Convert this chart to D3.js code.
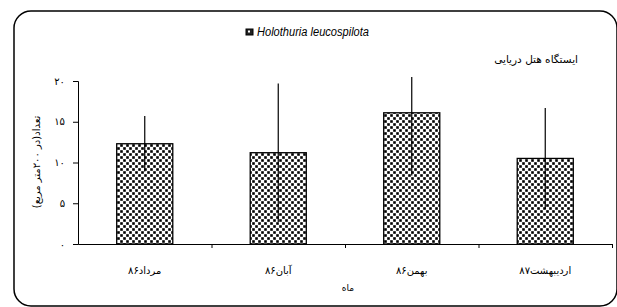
<!DOCTYPE html>
<html>
<head>
<meta charset="utf-8">
<script src="https://cdn.jsdelivr.net/npm/d3@7"></script>
<style>
  body { margin: 0; background: #fff; }
  svg { display: block; }
  .fa { font-family: "DejaVu Sans", sans-serif; }
</style>
</head>
<body>
<svg id="chart" width="617" height="307"></svg>
<script>
// data
const months = ['مرداد۸۶', 'آبان۸۶', 'بهمن۸۶', 'اردیبهشت۸۷'];
const counts = [12.3, 11.2, 16.1, 10.5];
const errors = [3.4, 8.5, 7.7, 6.2];
const yTicks = [0, 5, 10, 15, 20];
const yTickLabels = ['۰', '۵', '۱۰', '۱۵', '۲۰'];

const seriesName = 'Holothuria leucospilota';
const stationName = 'ایستگاه هتل دریایی';
const yTitle = 'تعداد(در ۲۰۰متر مربع)';
const xTitle = 'ماه';

const plot = {left: 78, right: 612, top: 81, bottom: 244};

const svg = d3.select('#chart');

// dotted fill
const defs = svg.append('defs');
const pat = defs.append('pattern')
  .attr('id', 'dots')
  .attr('patternUnits', 'userSpaceOnUse')
  .attr('width', 6).attr('height', 6);
pat.append('rect').attr('width', 6).attr('height', 6).attr('fill', '#fff');
pat.append('rect').attr('x', 0.2).attr('y', 0.2).attr('width', 2.6).attr('height', 2.6).attr('fill', '#000');
pat.append('rect').attr('x', 3.2).attr('y', 3.2).attr('width', 2.6).attr('height', 2.6).attr('fill', '#000');

defs.append('clipPath').attr('id', 'plotclip')
  .append('rect')
  .attr('x', plot.left).attr('y', 77)
  .attr('width', plot.right - plot.left).attr('height', plot.bottom - 77);

// rounded outer frame
svg.append('rect')
  .attr('x', 14).attr('y', 11)
  .attr('width', 603).attr('height', 295)
  .attr('rx', 17).attr('ry', 17)
  .attr('fill', 'none')
  .attr('stroke', '#000')
  .attr('stroke-width', 1.5);

const x = d3.scaleBand()
  .domain(months)
  .range([plot.left, plot.right])
  .paddingInner(0.58)
  .paddingOuter(0.29);

const xEdge = d3.scaleLinear()
  .domain([0, months.length])
  .range([plot.left, plot.right]);

const y = d3.scaleLinear()
  .domain([0, 20])
  .range([plot.bottom, plot.top]);

// bars
const data = months.map((m, i) => ({m, v: counts[i], e: errors[i]}));

svg.append('g')
  .selectAll('rect')
  .data(data)
  .join('rect')
  .attr('x', d => x(d.m))
  .attr('y', d => y(d.v))
  .attr('width', x.bandwidth())
  .attr('height', d => y(0) - y(d.v))
  .attr('fill', 'url(#dots)')
  .attr('stroke', '#000')
  .attr('stroke-width', 1.3);

// error bars (no caps)
svg.append('g')
  .attr('clip-path', 'url(#plotclip)')
  .selectAll('line')
  .data(data)
  .join('line')
  .attr('x1', d => x(d.m) + x.bandwidth() / 2)
  .attr('x2', d => x(d.m) + x.bandwidth() / 2)
  .attr('y1', d => y(d.v + d.e))
  .attr('y2', d => y(d.v - d.e))
  .attr('stroke', '#000')
  .attr('stroke-width', 1.2);

// y axis
const yAxis = svg.append('g')
  .attr('transform', `translate(${plot.left},0)`)
  .call(d3.axisLeft(y)
    .tickValues(yTicks)
    .tickSize(5)
    .tickPadding(8)
    .tickFormat((d, i) => yTickLabels[i]));
yAxis.select('.domain').attr('stroke', '#000').attr('stroke-width', 1);
yAxis.selectAll('text')
  .attr('class', 'fa')
  .attr('font-size', 10)
  .attr('fill', '#000');

// x axis with ticks on category edges
const xAxis = svg.append('g')
  .attr('transform', `translate(0,${plot.bottom})`)
  .call(d3.axisBottom(xEdge)
    .tickValues([1, 2, 3, 4])
    .tickSize(4)
    .tickSizeOuter(0)
    .tickFormat(''));
xAxis.select('.domain').attr('stroke', '#000').attr('stroke-width', 1);

svg.append('g')
  .selectAll('text')
  .data(months)
  .join('text')
  .attr('class', 'fa')
  .attr('x', d => x(d) + x.bandwidth() / 2)
  .attr('y', 274)
  .attr('text-anchor', 'middle')
  .attr('font-size', 10)
  .text(d => d);

// axis titles
svg.append('text')
  .attr('class', 'fa')
  .attr('x', 348)
  .attr('y', 291)
  .attr('text-anchor', 'middle')
  .attr('font-size', 9)
  .text(xTitle);

svg.append('text')
  .attr('class', 'fa')
  .attr('transform', 'translate(40,162) rotate(-90)')
  .attr('text-anchor', 'middle')
  .attr('font-size', 10)
  .text(yTitle);

// legend / series title
const lg = svg.append('g').attr('transform', 'translate(246,29)');
lg.append('rect')
  .attr('width', 7).attr('height', 6)
  .attr('fill', '#222')
  .attr('stroke', '#000');
lg.append('rect')
  .attr('x', 2).attr('y', 1.5).attr('width', 2).attr('height', 2)
  .attr('fill', '#fff');
lg.append('text')
  .attr('x', 11)
  .attr('y', 7)
  .attr('font-family', '"Liberation Sans Narrow", "Liberation Sans", Arial, sans-serif')
  .attr('font-style', 'italic')
  .attr('font-size', 12)
  .attr('textLength', 112)
  .attr('lengthAdjust', 'spacingAndGlyphs')
  .text(seriesName);

svg.append('text')
  .attr('class', 'fa')
  .attr('x', 578)
  .attr('y', 63)
  .attr('text-anchor', 'end')
  .attr('font-size', 10.5)
  .text(stationName);
</script>
</body>
</html>
